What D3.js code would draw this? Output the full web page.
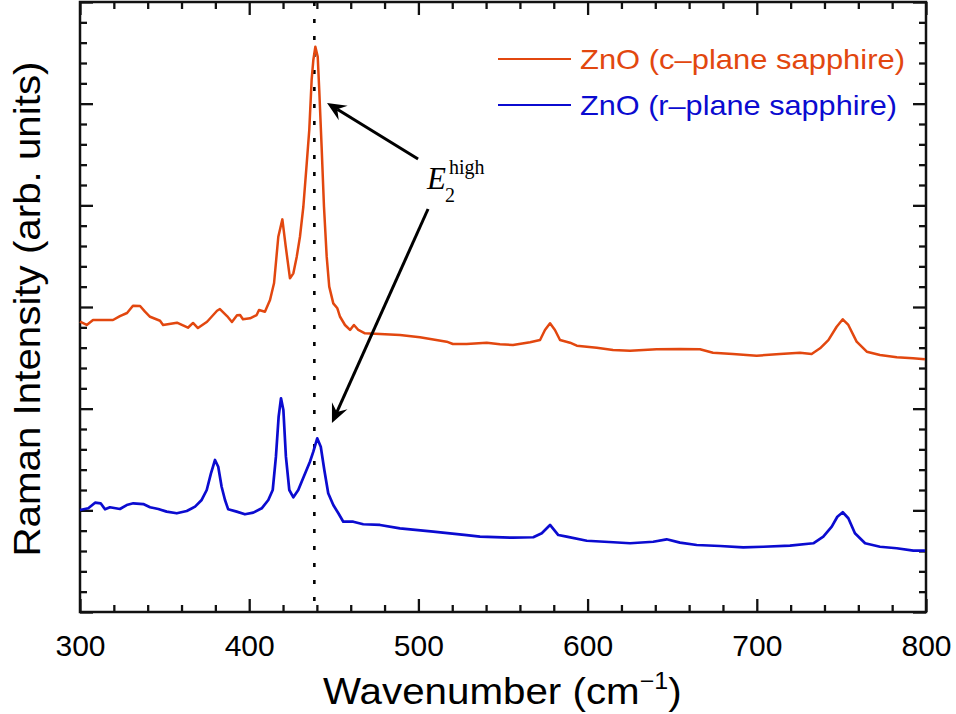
<!DOCTYPE html>
<html>
<head>
<meta charset="utf-8">
<script src="https://cdn.jsdelivr.net/npm/d3@7"></script>
<style>
  body { margin: 0; background: #fff; }
  svg { display: block; font-family: "Liberation Sans", Arial, sans-serif; }
</style>
</head>
<body>
<svg width="956" height="714"></svg>
<script>
// ZnO on c-plane sapphire (upper trace)
const cPlaneWave = [300, 304, 307.7, 311.8, 319.5, 323.6, 327.8, 331.3, 335.5, 338.4, 341.4, 347.3, 349.1,
  357.3, 363.8, 366.8, 369.7, 375.1, 381, 382.7, 386.9, 389.8, 392.8, 394.6, 396.3, 400.5, 404.4, 405.8,
  409.3, 412.3, 414.7, 417.2, 419.6, 421.6, 424.1, 426.1, 428.1, 430, 432, 434, 435.5, 436.9, 437.9, 439.1,
  440.5, 441.4, 442.8, 444.2, 445.8, 447.3, 449.7, 452.1, 453.7, 456.6, 459.6, 461.9, 464.5, 468.4, 477.3,
  489.1, 500.9, 516.7, 520.4, 528.5, 540.4, 548.2, 555.9, 566, 571.9, 574.8, 577.8, 580.7, 583.7, 589.6,
  593.6, 605.4, 615, 625.1, 640.8, 654.6, 666.4, 674.1, 685.9, 699.9, 713.7, 725.5, 732.4, 737.4, 742.3,
  747.2, 750.8, 754.1, 759, 765, 772.8, 782.7, 792.3, 799.4];
const cPlaneIntensity = [2.855, 2.823, 2.872, 2.872, 2.872, 2.911, 2.941, 3.013, 3.010, 2.954, 2.904, 2.865, 2.823,
  2.846, 2.796, 2.843, 2.793, 2.855, 2.963, 2.980, 2.911, 2.852, 2.918, 2.921, 2.879, 2.889, 2.921, 2.970,
  2.954, 3.069, 3.236, 3.691, 3.862, 3.593, 3.282, 3.331, 3.495, 3.691, 3.986, 4.413, 4.741, 5.233, 5.429, 5.560,
  5.462, 5.134, 4.577, 3.986, 3.495, 3.200, 3.036, 2.987, 2.904, 2.823, 2.774, 2.823, 2.774, 2.741, 2.734,
  2.724, 2.702, 2.659, 2.636, 2.636, 2.649, 2.634, 2.626, 2.653, 2.675, 2.774, 2.840, 2.774, 2.675, 2.649,
  2.619, 2.600, 2.577, 2.570, 2.584, 2.587, 2.584, 2.550, 2.538, 2.521, 2.538, 2.550, 2.538, 2.594, 2.675,
  2.806, 2.879, 2.823, 2.659, 2.560, 2.528, 2.505, 2.495, 2.485];

// ZnO on r-plane sapphire (lower trace)
const rPlaneWave = [300, 304.9, 308.9, 312.2, 314.8, 317.7, 323.6, 327.6, 331.5, 337.4, 341.4, 346.3, 351.2,
  357.2, 363.1, 368, 371.9, 374.9, 377.4, 379.8, 381.7, 383.7, 385.7, 387.6, 392.6, 397.5, 402.4, 407.4,
  411.3, 413.9, 415.8, 417.4, 418.8, 420.2, 421.7, 423.7, 426.1, 429, 431, 435.9, 437.9, 440.2, 442.3, 444.4,
  446.7, 449.7, 452.7, 455.6, 461.5, 467.4, 477.3, 489.1, 508.8, 528.5, 536.4, 555.9, 567.9, 572.9, 577.8,
  582.7, 587.6, 599.5, 615.2, 625.1, 638.8, 646.7, 654.6, 664.5, 678.3, 692, 703.8, 719.6, 733.4, 739.3,
  744.3, 747.6, 750.8, 754.1, 758, 764, 772.8, 782.7, 792.5, 799.4];
const rPlaneIntensity = [1.003, 1.020, 1.075, 1.069, 1.010, 1.030, 1.013, 1.052, 1.069, 1.062, 1.030, 1.013, 0.987,
  0.971, 0.993, 1.036, 1.102, 1.200, 1.364, 1.495, 1.429, 1.232, 1.102, 1.010, 0.987, 0.961, 0.977, 1.020,
  1.102, 1.200, 1.528, 1.921, 2.102, 1.987, 1.528, 1.200, 1.128, 1.200, 1.282, 1.478, 1.577, 1.708, 1.626, 1.397,
  1.168, 1.052, 0.971, 0.888, 0.888, 0.863, 0.856, 0.823, 0.790, 0.757, 0.741, 0.731, 0.735, 0.774, 0.856,
  0.757, 0.741, 0.701, 0.686, 0.676, 0.691, 0.715, 0.682, 0.659, 0.649, 0.636, 0.642, 0.652, 0.676, 0.741,
  0.839, 0.937, 0.981, 0.922, 0.774, 0.676, 0.642, 0.627, 0.603, 0.603];

const seriesNames = ["ZnO (c\u2013plane sapphire)", "ZnO (r\u2013plane sapphire)"];
const xTickValues = [300, 400, 500, 600, 700, 800];
const e2HighPosition = 438.5;
// arrows: [tailWave, tailIntensity, tipWave, tipIntensity]
const arrowCoords = [
  [499.8, 4.456, 446.0, 5.006],
  [505.7, 3.964, 448.9, 1.859],
];
const labelPosition = [505.1, 4.16];

const svgWidth = 956;
const svgHeight = 714;
const svg = d3.select("svg");

const margin = { left: 80, right: 30, top: 2, bottom: 102 };
const chartWidth = svgWidth - margin.left - margin.right;
const chartHeight = svgHeight - margin.top - margin.bottom;

const chartGroup = svg.append("g")
  .attr("transform", `translate(${margin.left}, ${margin.top})`);

const xScaler = d3.scaleLinear().domain([300, 800]).range([0, chartWidth]);
const yScaler = d3.scaleLinear().domain([0, 6]).range([chartHeight, 0]);

const majorLen = 13;
const minorLen = 7;
const xMinor = d3.range(300, 801, 20).filter((v) => v % 100 !== 0);
const yMajor = d3.range(0, 7, 1);
const yMinor = d3.range(0, 6.01, 0.2).filter((v) => Math.abs(v - Math.round(v)) > 0.01);

function styleAxis(g) {
  g.select(".domain").remove();
  g.selectAll(".tick line").attr("stroke", "#111").attr("stroke-width", 2.3);
}

// bottom
chartGroup.append("g")
  .attr("transform", `translate(0, ${chartHeight})`)
  .call(d3.axisBottom(xScaler).tickValues(xTickValues).tickSize(-majorLen).tickPadding(23).tickFormat(d3.format("d")))
  .call(styleAxis)
  .call((g) => g.selectAll("text").attr("font-size", 30).attr("fill", "#000").attr("font-family", "Liberation Sans, Arial, sans-serif"));
chartGroup.append("g")
  .attr("transform", `translate(0, ${chartHeight})`)
  .call(d3.axisBottom(xScaler).tickValues(xMinor).tickSize(-minorLen).tickFormat(""))
  .call(styleAxis);
// top
chartGroup.append("g")
  .call(d3.axisTop(xScaler).tickValues(xTickValues).tickSize(-majorLen).tickFormat(""))
  .call(styleAxis);
chartGroup.append("g")
  .call(d3.axisTop(xScaler).tickValues(xMinor).tickSize(-minorLen).tickFormat(""))
  .call(styleAxis);
// left
chartGroup.append("g")
  .call(d3.axisLeft(yScaler).tickValues(yMajor).tickSize(-majorLen).tickFormat(""))
  .call(styleAxis);
chartGroup.append("g")
  .call(d3.axisLeft(yScaler).tickValues(yMinor).tickSize(-minorLen).tickFormat(""))
  .call(styleAxis);
// right
chartGroup.append("g")
  .attr("transform", `translate(${chartWidth}, 0)`)
  .call(d3.axisRight(yScaler).tickValues(yMajor).tickSize(-majorLen).tickFormat(""))
  .call(styleAxis);
chartGroup.append("g")
  .attr("transform", `translate(${chartWidth}, 0)`)
  .call(d3.axisRight(yScaler).tickValues(yMinor).tickSize(-minorLen).tickFormat(""))
  .call(styleAxis);

// frame
chartGroup.append("rect")
  .attr("width", chartWidth)
  .attr("height", chartHeight)
  .attr("fill", "none")
  .attr("stroke", "#111")
  .attr("stroke-width", 2.5);

// dotted line at E2 high
chartGroup.append("line")
  .attr("x1", xScaler(e2HighPosition))
  .attr("x2", xScaler(e2HighPosition))
  .attr("y1", yScaler(6))
  .attr("y2", yScaler(0))
  .attr("stroke", "#000")
  .attr("stroke-width", 2.6)
  .attr("stroke-dasharray", "4,13");

const series = [
  { name: seriesNames[0], color: "#E2470F", width: 2.5, values: cPlaneWave.map((w, i) => [w, cPlaneIntensity[i]]) },
  { name: seriesNames[1], color: "#0B0BD0", width: 2.7, values: rPlaneWave.map((w, i) => [w, rPlaneIntensity[i]]) },
];

const line = d3.line()
  .x((d) => xScaler(d[0]))
  .y((d) => yScaler(d[1]));

chartGroup.selectAll("path.trace")
  .data(series)
  .join("path")
  .attr("class", "trace")
  .attr("d", (d) => line(d.values))
  .attr("fill", "none")
  .attr("stroke", (d) => d.color)
  .attr("stroke-width", (d) => d.width)
  .attr("stroke-linejoin", "round");

// arrows
arrowCoords.forEach(([tw, ti, hw, hi]) => {
  const x0 = xScaler(tw), y0 = yScaler(ti);
  const x1 = xScaler(hw), y1 = yScaler(hi);
  const ang = Math.atan2(y1 - y0, x1 - x0);
  const headLen = 19, headHalf = 8.5, notch = 12;
  const ux = Math.cos(ang), uy = Math.sin(ang);
  const bx = x1 - ux * headLen, by = y1 - uy * headLen;
  const nx = x1 - ux * notch, ny = y1 - uy * notch;
  chartGroup.append("line")
    .attr("x1", x0).attr("y1", y0)
    .attr("x2", nx).attr("y2", ny)
    .attr("stroke", "#000").attr("stroke-width", 3);
  chartGroup.append("path")
    .attr("d", `M${x1},${y1}L${bx - uy * headHalf},${by + ux * headHalf}L${nx},${ny}L${bx + uy * headHalf},${by - ux * headHalf}Z`)
    .attr("fill", "#000");
});

// E2 high label
const lx = xScaler(labelPosition[0]);
const ly = yScaler(labelPosition[1]);
chartGroup.append("text")
  .attr("x", lx).attr("y", ly)
  .attr("font-family", "Liberation Serif, Times New Roman, serif")
  .attr("font-style", "italic")
  .attr("font-size", 31)
  .text("E");
chartGroup.append("text")
  .attr("x", lx + 18).attr("y", ly + 13)
  .attr("font-family", "Liberation Serif, Times New Roman, serif")
  .attr("font-size", 20)
  .text("2");
chartGroup.append("text")
  .attr("x", lx + 22).attr("y", ly - 15)
  .attr("font-family", "Liberation Serif, Times New Roman, serif")
  .attr("font-size", 20)
  .text("high");

// legend
const legendWidths = [325, 317];
const legend = svg.append("g");
series.forEach((s, i) => {
  const ly = 59 + i * 46;
  legend.append("line")
    .attr("x1", 498).attr("x2", 571)
    .attr("y1", ly).attr("y2", ly)
    .attr("stroke", s.color).attr("stroke-width", 2);
  legend.append("text")
    .attr("x", 580).attr("y", ly + 10)
    .attr("font-size", 28)
    .attr("fill", s.color)
    .attr("textLength", legendWidths[i])
    .attr("lengthAdjust", "spacingAndGlyphs")
    .text(s.name);
});

// axis titles (x title stretched a little to the reference width)
const xTitle = svg.append("text")
  .attr("transform", "translate(323, 704) scale(1.09, 1)")
  .attr("font-size", 37)
  .attr("fill", "#000");
xTitle.append("tspan").text("Wavenumber (cm");
xTitle.append("tspan").attr("font-size", 23).attr("dy", -15).text("\u22121");
xTitle.append("tspan").attr("dy", 15).text(")");

svg.append("text")
  .attr("transform", "translate(40, 309) rotate(-90)")
  .attr("text-anchor", "middle")
  .attr("font-size", 37)
  .attr("fill", "#000")
  .attr("textLength", 495)
  .attr("lengthAdjust", "spacingAndGlyphs")
  .text("Raman Intensity (arb. units)");
</script>
</body>
</html>
